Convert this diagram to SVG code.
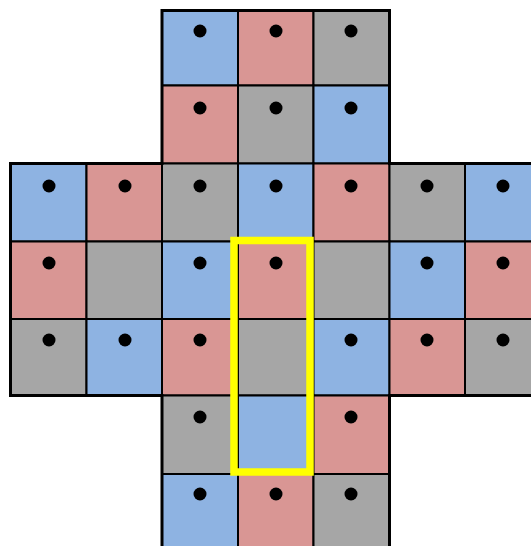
<svg xmlns="http://www.w3.org/2000/svg" width="531" height="546" viewBox="0 0 531 546">
<style>
.b{fill:#8EB3E2}
.p{fill:#D99694}
.g{fill:#A6A6A6}
.c rect{stroke:#000;stroke-width:2}
.c circle{fill:#000}
</style>
<rect width="531" height="546" fill="#fff"/>
<g class="c">
<g id="r0c2"><rect class="b" x="162" y="10.5" width="76" height="75"/><circle cx="200" cy="31" r="6.5"/></g>
<g id="r0c3"><rect class="p" x="238" y="10.5" width="75.5" height="75"/><circle cx="276" cy="31" r="6.5"/></g>
<g id="r0c4"><rect class="g" x="313.5" y="10.5" width="76" height="75"/><circle cx="351" cy="31" r="6.5"/></g>

<g id="r1c2"><rect class="p" x="162" y="85.5" width="76" height="78"/><circle cx="200" cy="108" r="6.5"/></g>
<g id="r1c3"><rect class="g" x="238" y="85.5" width="75.5" height="78"/><circle cx="276" cy="108" r="6.5"/></g>
<g id="r1c4"><rect class="b" x="313.5" y="85.5" width="76" height="78"/><circle cx="351" cy="108" r="6.5"/></g>

<g id="r2c0"><rect class="b" x="10.5" y="163.5" width="76" height="78"/><circle cx="49" cy="186" r="6.5"/></g>
<g id="r2c1"><rect class="p" x="86.5" y="163.5" width="75.5" height="78"/><circle cx="125" cy="186" r="6.5"/></g>
<g id="r2c2"><rect class="g" x="162" y="163.5" width="76" height="78"/><circle cx="200" cy="186" r="6.5"/></g>
<g id="r2c3"><rect class="b" x="238" y="163.5" width="75.5" height="78"/><circle cx="276" cy="186" r="6.5"/></g>
<g id="r2c4"><rect class="p" x="313.5" y="163.5" width="76" height="78"/><circle cx="351" cy="186" r="6.5"/></g>
<g id="r2c5"><rect class="g" x="389.5" y="163.5" width="75.5" height="78"/><circle cx="427" cy="186" r="6.5"/></g>
<g id="r2c6"><rect class="b" x="465" y="163.5" width="76" height="78"/><circle cx="503" cy="186" r="6.5"/></g>

<g id="r3c0"><rect class="p" x="10.5" y="241.5" width="76" height="77.5"/><circle cx="49" cy="263" r="6.5"/></g>
<g id="r3c1"><rect class="g" x="86.5" y="241.5" width="75.5" height="77.5"/></g>
<g id="r3c2"><rect class="b" x="162" y="241.5" width="76" height="77.5"/><circle cx="200" cy="263" r="6.5"/></g>
<g id="r3c3"><rect class="p" x="238" y="241.5" width="75.5" height="77.5"/><circle cx="276" cy="263" r="6.5"/></g>
<g id="r3c4"><rect class="g" x="313.5" y="241.5" width="76" height="77.5"/></g>
<g id="r3c5"><rect class="b" x="389.5" y="241.5" width="75.5" height="77.5"/><circle cx="427" cy="263" r="6.5"/></g>
<g id="r3c6"><rect class="p" x="465" y="241.5" width="76" height="77.5"/><circle cx="503" cy="263" r="6.5"/></g>

<g id="r4c0"><rect class="g" x="10.5" y="319" width="76" height="76.5"/><circle cx="49" cy="340" r="6.5"/></g>
<g id="r4c1"><rect class="b" x="86.5" y="319" width="75.5" height="76.5"/><circle cx="125" cy="340" r="6.5"/></g>
<g id="r4c2"><rect class="p" x="162" y="319" width="76" height="76.5"/><circle cx="200" cy="340" r="6.5"/></g>
<g id="r4c3"><rect class="g" x="238" y="319" width="75.5" height="76.5"/></g>
<g id="r4c4"><rect class="b" x="313.5" y="319" width="76" height="76.5"/><circle cx="351" cy="340" r="6.5"/></g>
<g id="r4c5"><rect class="p" x="389.5" y="319" width="75.5" height="76.5"/><circle cx="427" cy="340" r="6.5"/></g>
<g id="r4c6"><rect class="g" x="465" y="319" width="76" height="76.5"/><circle cx="503" cy="340" r="6.5"/></g>

<g id="r5c2"><rect class="g" x="162" y="395.5" width="76" height="78.5"/><circle cx="200" cy="417" r="6.5"/></g>
<g id="r5c3"><rect class="b" x="238" y="395.5" width="75.5" height="78.5"/></g>
<g id="r5c4"><rect class="p" x="313.5" y="395.5" width="76" height="78.5"/><circle cx="351" cy="417" r="6.5"/></g>

<g id="r6c2"><rect class="b" x="162" y="474" width="76" height="78"/><circle cx="200" cy="494" r="6.5"/></g>
<g id="r6c3"><rect class="p" x="238" y="474" width="75.5" height="78"/><circle cx="276" cy="494" r="6.5"/></g>
<g id="r6c4"><rect class="g" x="313.5" y="474" width="76" height="78"/><circle cx="351" cy="494" r="6.5"/></g>
</g>
<g id="outline"><path d="M162,10.5 H389.5 V163.5 H541 V395.5 H389.5 V552 H162 V395.5 H10.5 V163.5 H162 Z" fill="none" stroke="#000" stroke-width="3"/></g>
<g id="highlight"><rect x="234" y="240.5" width="76" height="231.5" fill="none" stroke="#FFFF00" stroke-width="7.5"/></g>
</svg>
